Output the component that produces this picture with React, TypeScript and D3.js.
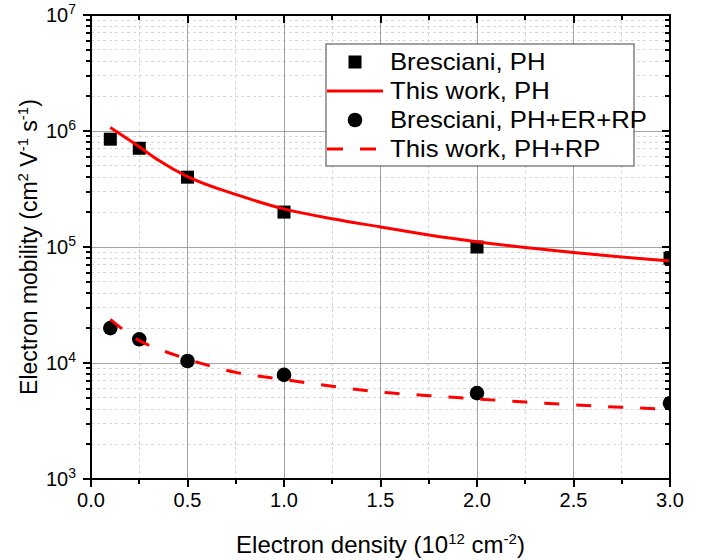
import { useRef, useEffect } from 'react';
import * as d3 from 'd3';

// Measured points (Bresciani)
const densities = [0.1, 0.25, 0.5, 1.0, 2.0, 3.0];
const brescianiPH = [8.5e5, 7.1e5, 4.0e5, 2.0e5, 1.0e5, 8.0e4];
const brescianiPHERRP = [2.0e4, 1.6e4, 1.04e4, 7.9e3, 5.5e3, 4.5e3];

// Model curves (this work)
const modelDensities = [0.1, 0.25, 0.35, 0.5, 0.75, 1.0, 1.25, 1.5, 1.75, 2.0, 2.25, 2.5, 2.75, 3.0];
const thisWorkPH = [1.07e6, 7.3e5, 5.6e5, 4.04e5, 2.84e5, 2.13e5, 1.75e5, 1.49e5, 1.27e5, 1.11e5, 9.9e4, 8.95e4, 8.2e4, 7.57e4];
const thisWorkPHRP = [2.38e4, 1.56e4, 1.32e4, 1.08e4, 8.3e3, 7.2e3, 6.3e3, 5.6e3, 5.23e3, 4.9e3, 4.61e3, 4.35e3, 4.15e3, 3.99e3];

const xTicks = [0, 0.5, 1.0, 1.5, 2.0, 2.5, 3.0];
const yDecades = [3, 4, 5, 6, 7];
const legendLabels = ['Bresciani, PH', 'This work, PH', 'Bresciani, PH+ER+RP', 'This work, PH+RP'];

export default function App() {
    const svgRef = useRef<SVGSVGElement>(null);

    useEffect(() => {
        const width = 707;
        const height = 560;
        const left = 91, right = 670, top = 15, bottom = 479;
        const font = '"Liberation Sans", Arial, sans-serif';

        const svg = d3.select(svgRef.current)
            .attr('width', width)
            .attr('height', height);

        svg.selectAll('*').remove();

        const x = d3.scaleLinear().domain([0, 3]).range([left, right]);
        const y = d3.scaleLog().domain([1e3, 1e7]).range([bottom, top]);

        svg.append('rect').attr('width', width).attr('height', height).attr('fill', '#fff');

        svg.append('defs').append('clipPath').attr('id', 'plot-clip')
            .append('rect')
            .attr('x', left).attr('y', top)
            .attr('width', right - left).attr('height', bottom - top);

        //Grid
        const grid = svg.append('g').attr('shape-rendering', 'crispEdges');
        const xMinor = d3.range(0.25, 3, 0.5);
        const yMinor: number[] = [];
        yDecades.slice(0, -1).forEach(d => {
            for (let k = 2; k <= 9; k++) yMinor.push(k * Math.pow(10, d));
        });

        grid.selectAll('.xminor').data(xMinor).join('line')
            .attr('x1', d => x(d)).attr('x2', d => x(d))
            .attr('y1', top).attr('y2', bottom)
            .attr('stroke', '#d6d6d6').attr('stroke-dasharray', '3,3');
        grid.selectAll('.yminor').data(yMinor).join('line')
            .attr('x1', left).attr('x2', right)
            .attr('y1', d => y(d)).attr('y2', d => y(d))
            .attr('stroke', '#d6d6d6').attr('stroke-dasharray', '3,3');
        grid.selectAll('.xmajor').data(xTicks.slice(1, -1)).join('line')
            .attr('x1', d => x(d)).attr('x2', d => x(d))
            .attr('y1', top).attr('y2', bottom)
            .attr('stroke', '#a3a3a3');
        grid.selectAll('.ymajor').data(yDecades.slice(1, -1)).join('line')
            .attr('x1', left).attr('x2', right)
            .attr('y1', d => y(Math.pow(10, d))).attr('y2', d => y(Math.pow(10, d)))
            .attr('stroke', '#a3a3a3');

        //Markers
        const plot = svg.append('g').attr('clip-path', 'url(#plot-clip)');
        const sq = 13;
        plot.selectAll('.sq').data(densities).join('rect')
            .attr('x', (d) => x(d) - sq / 2)
            .attr('y', (d, i) => y(brescianiPH[i]) - sq / 2)
            .attr('width', sq).attr('height', sq)
            .attr('fill', '#000');
        plot.selectAll('.circ').data(densities).join('circle')
            .attr('cx', d => x(d))
            .attr('cy', (d, i) => y(brescianiPHERRP[i]))
            .attr('r', 7.3)
            .attr('fill', '#000');

        //Model lines
        const line = d3.line<number>()
            .x(d => x(d))
            .curve(d3.curveMonotoneX);

        plot.append('path')
            .attr('d', line.y((d, i) => y(thisWorkPH[i]))(modelDensities))
            .attr('fill', 'none').attr('stroke', '#ff0000').attr('stroke-width', 3);
        plot.append('path')
            .attr('d', line.y((d, i) => y(thisWorkPHRP[i]))(modelDensities))
            .attr('fill', 'none').attr('stroke', '#ff0000').attr('stroke-width', 3)
            .attr('stroke-dasharray', '15,17');

        //Axes frame and ticks
        const axes = svg.append('g').attr('stroke', '#000').attr('stroke-width', 2).attr('shape-rendering', 'crispEdges');
        axes.append('rect')
            .attr('x', left).attr('y', top)
            .attr('width', right - left).attr('height', bottom - top)
            .attr('fill', 'none');

        const xAll = xTicks.map(v => ({ v, major: true })).concat(xMinor.map(v => ({ v, major: false })));
        xAll.forEach(t => {
            const len = t.major ? 8 : 5;
            axes.append('line').attr('x1', x(t.v)).attr('x2', x(t.v)).attr('y1', bottom).attr('y2', bottom + len);
            axes.append('line').attr('x1', x(t.v)).attr('x2', x(t.v)).attr('y1', top).attr('y2', top + len);
        });
        const yAll = yDecades.map(d => ({ v: Math.pow(10, d), major: true })).concat(yMinor.map(v => ({ v, major: false })));
        yAll.forEach(t => {
            const len = t.major ? 8 : 5;
            axes.append('line').attr('x1', left).attr('x2', left - len).attr('y1', y(t.v)).attr('y2', y(t.v));
            axes.append('line').attr('x1', right).attr('x2', right - len).attr('y1', y(t.v)).attr('y2', y(t.v));
        });

        //Tick labels
        svg.append('g').selectAll('text').data(xTicks).join('text')
            .attr('x', d => x(d)).attr('y', 507)
            .attr('text-anchor', 'middle')
            .attr('font-family', font).attr('font-size', 20)
            .text(d => d.toFixed(1));

        const yLabels = svg.append('g');
        yDecades.forEach(d => {
            const t = yLabels.append('text')
                .attr('x', 76).attr('y', y(Math.pow(10, d)) + 7)
                .attr('text-anchor', 'end')
                .attr('font-family', font).attr('font-size', 20);
            t.append('tspan').text('10');
            t.append('tspan').attr('dy', -8).attr('font-size', 14).text(String(d));
        });

        //Axis titles
        const xt = svg.append('text')
            .attr('x', (left + right) / 2).attr('y', 553)
            .attr('text-anchor', 'middle')
            .attr('font-family', font).attr('font-size', 24);
        xt.append('tspan').text('Electron density (10');
        xt.append('tspan').attr('dy', -9).attr('font-size', 15).text('12');
        xt.append('tspan').attr('dy', 9).text(' cm');
        xt.append('tspan').attr('dy', -9).attr('font-size', 15).text('-2');
        xt.append('tspan').attr('dy', 9).text(')');

        const yt = svg.append('text')
            .attr('transform', 'rotate(-90)')
            .attr('x', -(top + bottom) / 2).attr('y', 37)
            .attr('text-anchor', 'middle')
            .attr('font-family', font).attr('font-size', 23);
        yt.append('tspan').text('Electron mobility (cm');
        yt.append('tspan').attr('dy', -9).attr('font-size', 15).text('2');
        yt.append('tspan').attr('dy', 9).text(' V');
        yt.append('tspan').attr('dy', -9).attr('font-size', 15).text('-1');
        yt.append('tspan').attr('dy', 9).text(' s');
        yt.append('tspan').attr('dy', -9).attr('font-size', 15).text('-1');
        yt.append('tspan').attr('dy', 9).text(')');

        //Legend
        const legend = svg.append('g');
        legend.append('rect')
            .attr('x', 326).attr('y', 44)
            .attr('width', 308).attr('height', 122)
            .attr('fill', '#fff').attr('stroke', '#444').attr('stroke-width', 1);

        legendLabels.forEach((label, i) => {
            const cy = 62 + i * 29;
            if (i === 0) {
                legend.append('rect').attr('x', 355 - sq / 2).attr('y', cy - sq / 2)
                    .attr('width', sq).attr('height', sq).attr('fill', '#000');
            } else if (i === 2) {
                legend.append('circle').attr('cx', 355).attr('cy', cy).attr('r', 7.3).attr('fill', '#000');
            } else {
                legend.append('line')
                    .attr('x1', 327).attr('x2', 383).attr('y1', cy).attr('y2', cy)
                    .attr('stroke', '#ff0000').attr('stroke-width', 3)
                    .attr('stroke-dasharray', i === 3 ? '16,17' : null);
            }
            legend.append('text')
                .attr('transform', `translate(390,${cy + 8}) scale(1.07,1)`)
                .attr('font-family', font).attr('font-size', 24)
                .text(label);
        });
    }, []);

    return <svg ref={svgRef} style={{ position: 'absolute', left: 0, top: 0 }} />;
}
